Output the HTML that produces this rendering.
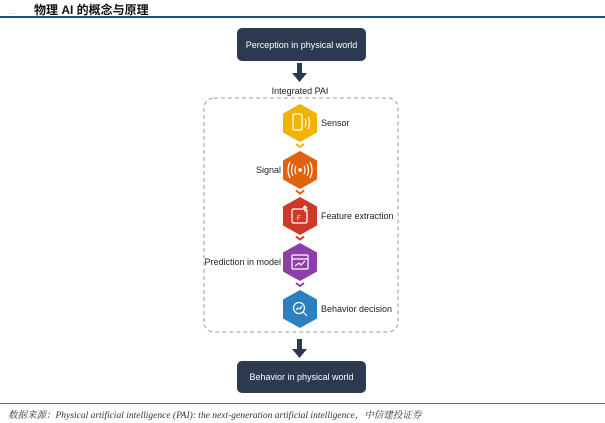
<!DOCTYPE html>
<html><head><meta charset="utf-8"><style>
body{margin:0;width:605px;height:423px;background:#fff;overflow:hidden;position:relative;font-family:"Liberation Sans","Noto Sans CJK SC",sans-serif}
</style></head><body>
<div style="position:absolute;left:8px;top:10px;font-size:5px;color:#555">. . .</div>
<div style="position:absolute;left:34px;top:1px;font-size:12px;font-weight:bold;font-family:'Liberation Sans','Noto Sans CJK SC',sans-serif;color:#111">物理 AI 的概念与原理</div>
<div style="position:absolute;left:0;top:16px;width:605px;height:2px;background:#1f4e79"></div>
<svg width="605" height="423" style="position:absolute;left:0;top:0">
<rect x="237" y="28" width="129" height="33" rx="5" fill="#2b3a50"/>
<text x="301.5" y="48" font-size="9" fill="#fff" text-anchor="middle" font-family="Liberation Sans">Perception in physical world</text>
<path d="M297 63h5v10h5l-7.5 9l-7.5-9h5z" fill="#2b3a50"/>
<rect x="204" y="98" width="194" height="234" rx="10" fill="none" stroke="#999" stroke-dasharray="4,3"/>
<g font-family="Liberation Sans" font-size="9" fill="#222">
<text x="300" y="94" text-anchor="middle">Integrated PAI</text>
<text x="321" y="126">Sensor</text>
<text x="281" y="173" text-anchor="end">Signal</text>
<text x="321" y="219">Feature extraction</text>
<text x="281" y="265" text-anchor="end">Prediction in model</text>
<text x="321" y="312">Behavior decision</text>
</g>
<g>
<polygon points="300,104 317,113.5 317,132.5 300,142 283,132.5 283,113.5" fill="#f0b400"/>
<polygon points="300,151 317,160.5 317,179.5 300,189 283,179.5 283,160.5" fill="#e0620a"/>
<polygon points="300,197 317,206.5 317,225.5 300,235 283,225.5 283,206.5" fill="#cc3a27"/>
<polygon points="300,243 317,252.5 317,271.5 300,281 283,271.5 283,252.5" fill="#8e3ea8"/>
<polygon points="300,290 317,299.5 317,318.5 300,328 283,318.5 283,299.5" fill="#2b80c0"/>
</g>
<g fill="none" stroke-width="2">
<path d="M296 144l4 3l4-3" stroke="#f0b400"/>
<path d="M296 190.5l4 3l4-3" stroke="#e0620a"/>
<path d="M296 236.5l4 3l4-3" stroke="#cc3a27"/>
<path d="M296 283l4 3l4-3" stroke="#8e3ea8"/>
</g>
<g fill="none" stroke="#fff" stroke-width="1.2">
<rect x="293" y="114" width="9" height="16" rx="1.5"/>
<path d="M305 119q2 4 0 8M308 117q3 6 0 12"/>
<circle cx="300" cy="170" r="1.3" fill="#fff"/>
<path d="M296 166q-2 4 0 8M304 166q2 4 0 8M293 164q-3 6 0 12M307 164q3 6 0 12M290 162q-4 8 0 16M310 162q4 8 0 16"/>
<rect x="292" y="209" width="15" height="14" rx="1.5"/>
<text x="297" y="220" font-size="6" fill="#fff" stroke="none" font-family="Liberation Sans">F</text>
<path d="M305 212v-6M303 208l2-2l2 2"/>
<rect x="292" y="255" width="16" height="14" rx="1"/>
<path d="M292 259h16M295 266l4-3l2 2l4-4"/>
<circle cx="299" cy="308" r="5.5"/>
<path d="M303 312l4 4M296 310l2-2l2 1l2-3"/>
</g>
<path d="M297 339h5v10h5l-7.5 9l-7.5-9h5z" fill="#2b3a50"/>
<rect x="237" y="361" width="129" height="32" rx="5" fill="#2b3a50"/>
<text x="301.5" y="380" font-size="9" fill="#fff" text-anchor="middle" font-family="Liberation Sans">Behavior in physical world</text>
</svg>
<div style="position:absolute;left:0;top:403px;width:605px;height:1px;background:#3a6ea5"></div>
<div style="position:absolute;left:8px;top:407px;font-size:9.5px;font-style:italic;font-family:'Liberation Serif','Noto Serif CJK SC',serif;color:#333;white-space:nowrap">数据来源：Physical artificial intelligence (PAI): the next-generation artificial intelligence，中信建投证券</div>
</body></html>
